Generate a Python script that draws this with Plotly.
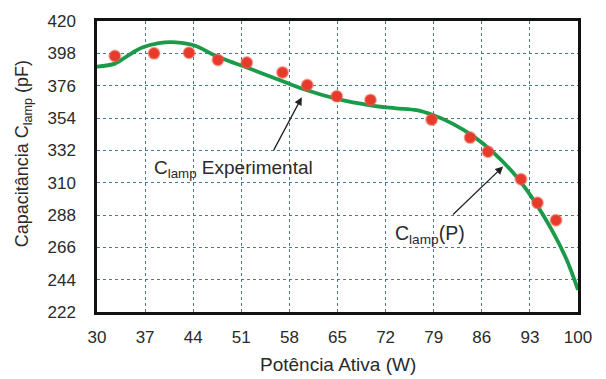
import plotly.graph_objects as go

# Experimental points
exp_p = [32.6, 38.3, 43.4, 47.6, 51.8, 57.0, 60.6, 64.9, 69.8, 78.7, 84.3, 86.9, 91.7, 94.1, 96.8]
exp_c = [396.2, 398.0, 398.4, 393.5, 391.7, 385.0, 376.4, 368.8, 366.3, 352.9, 340.7, 331.1, 312.4, 296.3, 284.5]

# Fitted curve C_lamp(P)
fit_p = [30, 32.6, 34.5, 36.5, 39.0, 41.5, 44.3, 46.7, 49.1, 51.8, 55.6, 60.0, 64.9, 70.0, 73.5,
         76.5, 78.9, 81.8, 84.8, 87.7, 90.6, 93.5, 96.4, 98.4, 100]
fit_c = [389.0, 391.0, 396.5, 401.8, 405.0, 405.5, 403.2, 397.6, 392.9, 388.3, 381.6, 373.7, 367.0, 362.5, 360.6,
         359.3, 356.0, 350.0, 341.5, 330.5, 316.5, 298.5, 276.0, 257.0, 237.0]

x_ticks = [30, 37, 44, 51, 58, 65, 72, 79, 86, 93, 100]
y_ticks = [222, 244, 266, 288, 310, 332, 354, 376, 398, 420]

font = "Liberation Sans, Arial, sans-serif"
txt = "#2a2a2a"

fig = go.Figure()
fig.add_trace(go.Scatter(x=fit_p, y=fit_c, mode="lines",
                         line=dict(color="#1b9a4a", width=3.8, shape="spline", smoothing=0.9),
                         showlegend=False, hoverinfo="skip"))
fig.add_trace(go.Scatter(x=exp_p, y=exp_c, mode="markers",
                         marker=dict(color="#e63a2c", size=11, line=dict(color="rgba(240,90,70,0.5)", width=2)),
                         showlegend=False))

grid = dict(showgrid=True, gridcolor="#44799c", griddash="dot", gridwidth=1.2)
fig.update_xaxes(range=[30, 100], tickvals=x_ticks, ticktext=[str(v) for v in x_ticks],
                 tickfont=dict(family=font, size=17, color=txt), ticks="", ticklabelstandoff=8,
                 showline=True, linecolor="#111", linewidth=2.5, mirror=True, zeroline=False, **grid)
fig.update_yaxes(range=[222, 420], tickvals=y_ticks, ticktext=[str(v) for v in y_ticks],
                 tickfont=dict(family=font, size=17, color=txt), ticks="", ticklabelstandoff=15,
                 showline=True, linecolor="#111", linewidth=2.5, mirror=True, zeroline=False, **grid)

annotations = [
    dict(x=0.5, y=-0.182, xref="paper", yref="paper", xanchor="center", yanchor="middle",
         text="Potência Ativa (W)", showarrow=False, font=dict(family=font, size=19, color=txt)),
    dict(x=-0.152, y=0.545, xref="paper", yref="paper", xanchor="center", yanchor="middle",
         text="Capacitância C<sub>lamp</sub> (pF)", textangle=-90, showarrow=False,
         font=dict(family=font, size=18, color=txt)),
    dict(x=49.8, y=319.5, xref="x", yref="y", xanchor="center", yanchor="middle",
         text="C<sub>lamp</sub> Experimental", showarrow=False, font=dict(family=font, size=19, color=txt)),
    dict(x=59.8, y=368.1, ax=55.6, ay=331.1, xref="x", yref="y", axref="x", ayref="y",
         text="", showarrow=True, arrowhead=2, arrowsize=1.2, arrowwidth=1.3, arrowcolor="#222"),
    dict(x=78.5, y=274.5, xref="x", yref="y", xanchor="center", yanchor="middle",
         text="C<sub>lamp</sub>(P)", showarrow=False, font=dict(family=font, size=19.5, color=txt)),
    dict(x=89.1, y=321.0, ax=81.6, ay=287.3, xref="x", yref="y", axref="x", ayref="y",
         text="", showarrow=True, arrowhead=2, arrowsize=1.2, arrowwidth=1.3, arrowcolor="#222"),
]

fig.update_layout(width=606, height=379, margin=dict(l=97, r=28, t=18, b=67),
                  paper_bgcolor="white", plot_bgcolor="white", annotations=annotations,
                  showlegend=False)

fig.write_html("out.html", config={"displayModeBar": False},
               post_script="document.body.style.margin='0';document.body.style.overflow='hidden';")
